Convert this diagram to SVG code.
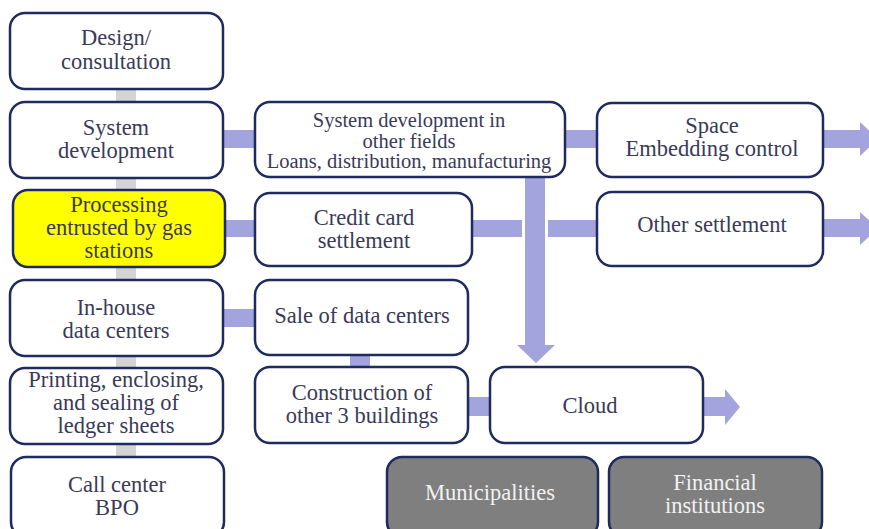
<svg xmlns="http://www.w3.org/2000/svg" width="869" height="529" viewBox="0 0 869 529">
<rect width="869" height="529" fill="#ffffff"/>
<g id="connectors">
<g fill="#d4d4d4">
<rect x="116" y="88" width="20" height="16"/>
<rect x="116" y="177" width="20" height="15"/>
<rect x="116" y="266" width="20" height="16"/>
<rect x="116" y="355" width="20" height="15"/>
<rect x="116" y="443" width="20" height="16"/>
</g>
<g fill="#a3a3dd">
<rect x="223" y="130" width="33" height="18"/>
<rect x="565" y="130" width="33" height="18"/>
<polygon points="823,130 860,130 860,122 878,139 860,156 860,148 823,148"/>
<rect x="225" y="220" width="31" height="17"/>
<rect x="472" y="220" width="50" height="17"/>
<rect x="548" y="220" width="50" height="17"/>
<polygon points="823,219 860,219 860,212 878,228.5 860,245 860,237 823,237"/>
<polygon points="525,177 545,177 545,345 555,345 536,363 517,345 525,345"/>
<rect x="223" y="309" width="33" height="18"/>
<rect x="350" y="354" width="20" height="14"/>
<rect x="468" y="397" width="23" height="19"/>
<polygon points="703,397 725,397 725,389 740,407 725,425 725,416 703,416"/>
</g>
</g>
<g stroke="#1f2a5e" stroke-width="2.5">
<g id="design"><rect fill="#ffffff" x="10" y="13" width="213" height="76" rx="15"/><text stroke="none" font-family="Liberation Serif" font-size="22.5" fill="#3a3a58" text-anchor="middle" x="116" y="45">Design/</text><text stroke="none" font-family="Liberation Serif" font-size="22.5" fill="#3a3a58" text-anchor="middle" x="116" y="69">consultation</text></g>
<g id="sysdev"><rect fill="#ffffff" x="10" y="102" width="213" height="76" rx="15"/><text stroke="none" font-family="Liberation Serif" font-size="22.5" fill="#3a3a58" text-anchor="middle" x="116" y="135">System</text><text stroke="none" font-family="Liberation Serif" font-size="22.5" fill="#3a3a58" text-anchor="middle" x="116" y="158">development</text></g>
<g id="processing"><rect fill="#ffff00" x="13" y="190" width="212" height="77" rx="15"/><text stroke="none" font-family="Liberation Serif" font-size="22.5" fill="#3a3a58" text-anchor="middle" x="119" y="212">Processing</text><text stroke="none" font-family="Liberation Serif" font-size="22.5" fill="#3a3a58" text-anchor="middle" x="119" y="235">entrusted by gas</text><text stroke="none" font-family="Liberation Serif" font-size="22.5" fill="#3a3a58" text-anchor="middle" x="119" y="258">stations</text></g>
<g id="inhouse"><rect fill="#ffffff" x="10" y="280" width="213" height="76" rx="15"/><text stroke="none" font-family="Liberation Serif" font-size="22.5" fill="#3a3a58" text-anchor="middle" x="116" y="315">In-house</text><text stroke="none" font-family="Liberation Serif" font-size="22.5" fill="#3a3a58" text-anchor="middle" x="116" y="338">data centers</text></g>
<g id="printing"><rect fill="#ffffff" x="10" y="368" width="213" height="76" rx="15"/><text stroke="none" font-family="Liberation Serif" font-size="22.5" fill="#3a3a58" text-anchor="middle" x="116" y="387">Printing, enclosing,</text><text stroke="none" font-family="Liberation Serif" font-size="22.5" fill="#3a3a58" text-anchor="middle" x="116" y="410">and sealing of</text><text stroke="none" font-family="Liberation Serif" font-size="22.5" fill="#3a3a58" text-anchor="middle" x="116" y="433">ledger sheets</text></g>
<g id="callcenter"><rect fill="#ffffff" x="11" y="457" width="213" height="80" rx="15"/><text stroke="none" font-family="Liberation Serif" font-size="22.5" fill="#3a3a58" text-anchor="middle" x="117" y="492">Call center</text><text stroke="none" font-family="Liberation Serif" font-size="22.5" fill="#3a3a58" text-anchor="middle" x="117" y="515">BPO</text></g>
<g id="sysdevother"><rect fill="#ffffff" x="255" y="102" width="310" height="75" rx="15"/><text stroke="none" font-family="Liberation Serif" font-size="20.5" fill="#3a3a58" text-anchor="middle" x="409" y="127">System  development in</text><text stroke="none" font-family="Liberation Serif" font-size="20.5" fill="#3a3a58" text-anchor="middle" x="409" y="148">other fields</text><text stroke="none" font-family="Liberation Serif" font-size="20.5" fill="#3a3a58" text-anchor="middle" x="409" y="168">Loans, distribution, manufacturing</text></g>
<g id="credit"><rect fill="#ffffff" x="255" y="193" width="217" height="73" rx="15"/><text stroke="none" font-family="Liberation Serif" font-size="22.5" fill="#3a3a58" text-anchor="middle" x="364" y="225">Credit card</text><text stroke="none" font-family="Liberation Serif" font-size="22.5" fill="#3a3a58" text-anchor="middle" x="364" y="248">settlement</text></g>
<g id="sale"><rect fill="#ffffff" x="255" y="280" width="213" height="75" rx="15"/><text stroke="none" font-family="Liberation Serif" font-size="22.5" fill="#3a3a58" text-anchor="middle" x="362" y="323">Sale of data centers</text></g>
<g id="construction"><rect fill="#ffffff" x="255" y="367" width="213" height="76" rx="15"/><text stroke="none" font-family="Liberation Serif" font-size="22.5" fill="#3a3a58" text-anchor="middle" x="362" y="400">Construction of</text><text stroke="none" font-family="Liberation Serif" font-size="22.5" fill="#3a3a58" text-anchor="middle" x="362" y="423">other 3 buildings</text></g>
<g id="cloud"><rect fill="#ffffff" x="490" y="367" width="213" height="76" rx="15"/><text stroke="none" font-family="Liberation Serif" font-size="22.5" fill="#3a3a58" text-anchor="middle" x="590" y="413">Cloud</text></g>
<g id="space"><rect fill="#ffffff" x="597" y="103" width="226" height="74" rx="15"/><text stroke="none" font-family="Liberation Serif" font-size="22.5" fill="#3a3a58" text-anchor="middle" x="712" y="133">Space</text><text stroke="none" font-family="Liberation Serif" font-size="22.5" fill="#3a3a58" text-anchor="middle" x="712" y="156">Embedding control</text></g>
<g id="othersettlement"><rect fill="#ffffff" x="597" y="192" width="226" height="74" rx="15"/><text stroke="none" font-family="Liberation Serif" font-size="22.5" fill="#3a3a58" text-anchor="middle" x="712" y="232">Other settlement</text></g>
<g id="municipalities"><rect fill="#7f7f7f" x="387" y="457" width="211" height="80" rx="15"/><text stroke="none" font-family="Liberation Serif" font-size="22.5" fill="#f2f2f2" text-anchor="middle" x="490" y="500">Municipalities</text></g>
<g id="financial"><rect fill="#7f7f7f" x="609" y="457" width="213" height="80" rx="15"/><text stroke="none" font-family="Liberation Serif" font-size="22.5" fill="#f2f2f2" text-anchor="middle" x="715" y="490">Financial</text><text stroke="none" font-family="Liberation Serif" font-size="22.5" fill="#f2f2f2" text-anchor="middle" x="715" y="513">institutions</text></g>
</g>
</svg>
